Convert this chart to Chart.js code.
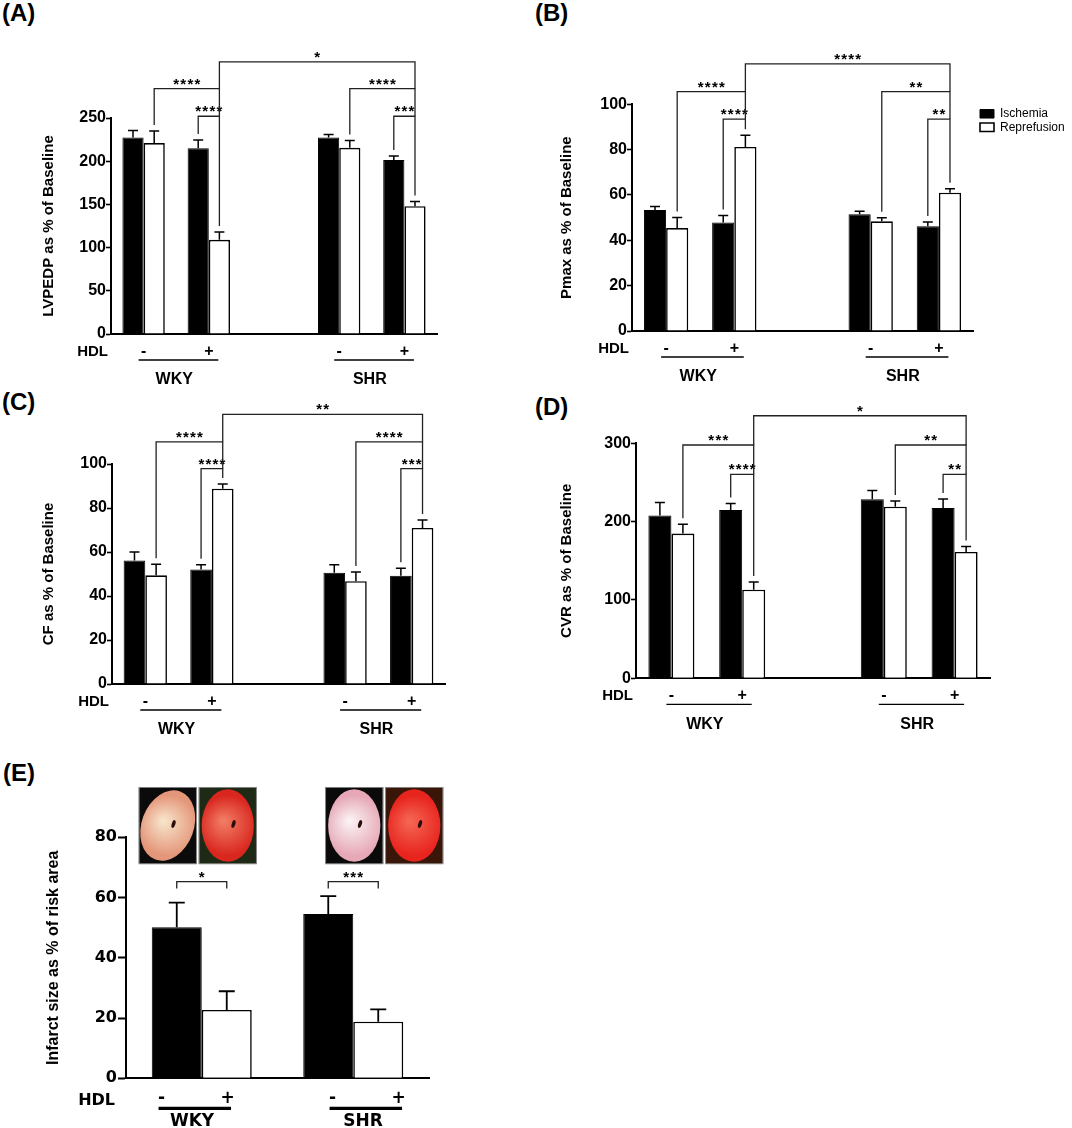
<!DOCTYPE html>
<html lang="en">
<head>
<meta charset="UTF-8">
<title>HDL and ischemia / reperfusion</title>
<script src="https://cdn.jsdelivr.net/npm/chart.js"></script>
<style>
    body {
        margin: 0;
        background: #fff;
        font-family: "Liberation Sans", Arial, sans-serif;
    }
    #page {
        position: relative;
        width: 1072px;
        height: 1128px;
        overflow: hidden;
    }
    .panel {
        position: absolute;
    }
    .tag {
        position: absolute;
        font-weight: bold;
        font-size: 24px;
        line-height: 26px;
    }
</style>
</head>
<body>
<div id="page">
    <div class="tag" style="left:2px;top:0">(A)</div>
    <div class="tag" style="left:535px;top:0">(B)</div>
    <div class="tag" style="left:2px;top:389px">(C)</div>
    <div class="tag" style="left:535px;top:394px">(D)</div>
    <div class="tag" style="left:3px;top:760px">(E)</div>
</div>

<script>
// ---------- values ----------
const hdlTicks = ['-', '+', '', '-', '+'];
const strains = ['WKY', 'SHR'];
const seriesNames = ['Ischemia', 'Reprefusion'];

// (A) LVPEDP
const lvpedpIsch = [227.5, 215, null, 227.5, 201.5];
const lvpedpIschSem = [8, 9.5, null, 3.5, 4.5];
const lvpedpRep = [221, 109, null, 215.5, 148];
const lvpedpRepSem = [14, 9, null, 8.5, 5.5];
// [category, series, category, series, bracket height, label]
const lvpedpSig = [
    [1, 0, 1, 1, 252, '****'],
    [0, 1, 1, 1, 284, '****'],
    [1, 1, 4, 1, 315, '*'],
    [3, 1, 4, 1, 284, '****'],
    [4, 0, 4, 1, 252, '***']
];

// (B) Pmax
const pmaxIsch = [53.4, 47.9, null, 51.5, 46.2];
const pmaxIschSem = [1.5, 3.0, null, 1.3, 1.9];
const pmaxRep = [45.4, 81.2, null, 48.4, 61.0];
const pmaxRepSem = [4.7, 5.1, null, 1.6, 1.8];
const pmaxSig = [
    [1, 0, 1, 1, 93.5, '****'],
    [0, 1, 1, 1, 105.6, '****'],
    [1, 1, 4, 1, 117.8, '****'],
    [3, 1, 4, 1, 105.6, '**'],
    [4, 0, 4, 1, 93.5, '**']
];

// (C) CF
const cfIsch = [56.1, 52.1, null, 50.6, 49.2];
const cfIschSem = [3.9, 2.1, null, 3.6, 3.4];
const cfRep = [49.4, 88.8, null, 46.7, 70.9];
const cfRepSem = [5.0, 2.1, null, 4.2, 3.6];
const cfSig = [
    [1, 0, 1, 1, 97.9, '****'],
    [0, 1, 1, 1, 110.1, '****'],
    [1, 1, 4, 1, 122.6, '**'],
    [3, 1, 4, 1, 110.1, '****'],
    [4, 0, 4, 1, 97.9, '***']
];

// (D) CVR
const cvrIsch = [207.7, 214.9, null, 228.5, 217.4];
const cvrIschSem = [16.6, 8.1, null, 11.1, 11.6];
const cvrRep = [184.7, 113.2, null, 219.1, 161.3];
const cvrRepSem = [11.9, 9.8, null, 7.3, 6.8];
const cvrSig = [
    [1, 0, 1, 1, 260.4, '****'],
    [0, 1, 1, 1, 297.8, '***'],
    [1, 1, 4, 1, 335.2, '*'],
    [3, 1, 4, 1, 297.8, '**'],
    [4, 0, 4, 1, 260.4, '**']
];

// (E) infarct size (black = HDL -, white = HDL +)
const infarctNoHdl = [50.1, 54.5];
const infarctNoHdlSem = [8.2, 6.0];
const infarctHdl = [22.7, 18.8];
const infarctHdlSem = [6.2, 4.1];
const infarctSig = [
    [0, 0, 0, 1, 65.3, '*'],
    [1, 0, 1, 1, 65.3, '***']
];

// ---------- drawing ----------
const FONT = 'Liberation Sans, Arial, Helvetica, sans-serif';
const WIDE = 'DejaVu Sans, Verdana, sans-serif';
Chart.defaults.color = '#000';
Chart.defaults.font.family = FONT;

// mean + SEM whiskers (upper only)
const errorBars = {
    id: 'errorBars',
    afterDatasetsDraw(chart, args, o) {
        const ctx = chart.ctx, ys = chart.scales.y;
        ctx.save();
        ctx.strokeStyle = '#000';
        ctx.lineWidth = o.width;
        chart.data.datasets.forEach((ds, di) => {
            chart.getDatasetMeta(di).data.forEach((bar, i) => {
                if (ds.data[i] == null) return;
                const top = ys.getPixelForValue(ds.data[i] + ds.sem[i]);
                ctx.beginPath();
                ctx.moveTo(bar.x, bar.y);
                ctx.lineTo(bar.x, top);
                ctx.moveTo(bar.x - o.cap / 2, top);
                ctx.lineTo(bar.x + o.cap / 2, top);
                ctx.stroke();
            });
        });
        ctx.restore();
    }
};

// significance brackets
const brackets = {
    id: 'brackets',
    afterDatasetsDraw(chart, args, o) {
        const ctx = chart.ctx, ys = chart.scales.y;
        const list = o.list;
        const barX = (c, s) => chart.getDatasetMeta(s).data[c].x;
        const errPx = (c, s) => {
            const ds = chart.data.datasets[s];
            return ys.getPixelForValue(ds.data[c] + ds.sem[c]);
        };
        ctx.save();
        ctx.strokeStyle = '#222';
        ctx.fillStyle = '#000';
        ctx.lineWidth = o.lineWidth;
        ctx.font = 'bold ' + o.size + 'px ' + FONT;
        ctx.textAlign = 'center';
        ctx.textBaseline = 'alphabetic';
        list.forEach(b => {
            const lv = b[4];
            const yLine = ys.getPixelForValue(lv);
            const foot = (c, s) => {
                if (o.legLen) return yLine + o.legLen;
                let below = null;
                list.forEach(q => {
                    const shares = (q[0] === c && q[1] === s) || (q[2] === c && q[3] === s);
                    if (q[4] < lv && shares) below = below === null ? q[4] : Math.max(below, q[4]);
                });
                return below !== null ? ys.getPixelForValue(below) : errPx(c, s) - o.gap;
            };
            const x1 = barX(b[0], b[1]), x2 = barX(b[2], b[3]);
            ctx.beginPath();
            ctx.moveTo(x1, foot(b[0], b[1]));
            ctx.lineTo(x1, yLine);
            ctx.lineTo(x2, yLine);
            ctx.lineTo(x2, foot(b[2], b[3]));
            ctx.stroke();
            ctx.letterSpacing = o.spacing + 'px';
            ctx.fillText(b[5], (x1 + x2) / 2 + o.spacing / 2, yLine - o.lift);
        });
        ctx.restore();
    }
};

// HDL label, group underline and strain names (panels A-D)
const hdlRow = {
    id: 'hdlRow',
    afterDraw(chart, args, o) {
        const ctx = chart.ctx, a = chart.chartArea, xs = chart.scales.x;
        ctx.save();
        ctx.fillStyle = '#000';
        ctx.strokeStyle = '#000';
        ctx.textBaseline = 'middle';
        ctx.font = 'bold 15px ' + FONT;
        ctx.textAlign = 'right';
        ctx.fillText('HDL', a.left - 3, a.bottom + 18);
        ctx.font = 'bold 16px ' + FONT;
        ctx.textAlign = 'center';
        ctx.lineWidth = 1.3;
        o.groups.forEach((g, i) => {
            const c0 = xs.getPixelForValue(g[0]), c1 = xs.getPixelForValue(g[1]);
            ctx.beginPath();
            ctx.moveTo(c0 - 5, a.bottom + 26);
            ctx.lineTo(c1 + 9.5, a.bottom + 26);
            ctx.stroke();
            ctx.fillText(strains[i], (c0 + c1) / 2 - 2, a.bottom + 46);
        });
        ctx.restore();
    }
};

// HDL row of panel E
const infarctRow = {
    id: 'infarctRow',
    afterDraw(chart, args, o) {
        const ctx = chart.ctx, a = chart.chartArea, xs = chart.scales.x;
        ctx.save();
        ctx.fillStyle = '#000';
        ctx.strokeStyle = '#000';
        ctx.textBaseline = 'middle';
        ctx.font = 'bold 16px ' + WIDE;
        ctx.textAlign = 'right';
        ctx.fillText('HDL', a.left - 11, a.bottom + 23);
        ctx.textAlign = 'center';
        chart.data.labels.forEach((name, i) => {
            const c = xs.getPixelForValue(i) + o.shift[i];
            ctx.font = 'bold 17px ' + WIDE;
            ctx.fillText('-', c - 30.5, a.bottom + 20);
            ctx.fillText('+', c + 35.5, a.bottom + 20);
            ctx.lineWidth = 3.3;
            ctx.beginPath();
            ctx.moveTo(c - 33.5, a.bottom + 30);
            ctx.lineTo(c + 39, a.bottom + 30);
            ctx.stroke();
            ctx.fillText(name, c, a.bottom + 43);
        });
        ctx.restore();
    }
};

// stained heart slices above panel E (painted stand-ins)
function drawSlice(ctx, x, y, w, h, t) {
    ctx.save();
    ctx.fillStyle = t.bg;
    ctx.fillRect(x, y, w, h);
    ctx.strokeStyle = '#9a9a9a';
    ctx.lineWidth = 0.8;
    ctx.strokeRect(x + 0.4, y + 0.4, w - 0.8, h - 0.8);
    const cx = x + w / 2, cy = y + h / 2;
    const g = ctx.createRadialGradient(cx - w * 0.08, cy - h * 0.06, 2, cx, cy, w * 0.52);
    g.addColorStop(0, t.core);
    g.addColorStop(1, t.rim);
    ctx.fillStyle = g;
    ctx.beginPath();
    ctx.ellipse(cx, cy, w * 0.45, h * 0.47, t.tilt, 0, Math.PI * 2);
    ctx.fill();
    ctx.fillStyle = '#2a0d08';
    ctx.beginPath();
    ctx.ellipse(cx + w * 0.1, cy - h * 0.02, 1.8, 4, 0.3, 0, Math.PI * 2);
    ctx.fill();
    ctx.restore();
}

const photos = {
    id: 'photos',
    afterDraw(chart, args, o) {
        const ctx = chart.ctx, xs = chart.scales.x, ys = chart.scales.y;
        const top = ys.getPixelForValue(o.top), bottom = ys.getPixelForValue(o.bottom);
        chart.data.labels.forEach((_, i) => {
            const c = xs.getPixelForValue(i) + o.shift[i];
            o.slices[i].forEach((t, k) => {
                const x = k === 0 ? c - 1 - o.w : c + 1;
                drawSlice(ctx, x, top, o.w, bottom - top, t);
            });
        });
    }
};

// move the legend a few pixels off the plot
const legendNudge = {
    id: 'legendNudge',
    afterLayout(chart, args, o) {
        const lg = chart.legend;
        if (!lg || !o.dx) return;
        lg.left += o.dx; lg.right += o.dx;
        lg.top += o.dy; lg.bottom += o.dy;
    }
};

function pairSets(isch, ischSem, rep, repSem, names) {
    return [
        { label: names[0], data: isch, sem: ischSem, backgroundColor: '#000', borderColor: '#000', borderWidth: 1 },
        { label: names[1], data: rep, sem: repSem, backgroundColor: '#fff', borderColor: '#000', borderWidth: 1.6 }
    ];
}

function buildChart(p) {
    const [bx, by, bw, bh] = p.box;
    const [L, T, R, B] = p.area;
    const wrap = document.createElement('div');
    wrap.className = 'panel';
    wrap.style.left = bx + 'px';
    wrap.style.top = by + 'px';
    wrap.style.width = bw + 'px';
    wrap.style.height = bh + 'px';
    const cv = document.createElement('canvas');
    wrap.appendChild(cv);
    document.getElementById('page').appendChild(wrap);

    const xH = 40;
    let legendW = 0;
    if (p.legend) {
        const m = document.createElement('canvas').getContext('2d');
        m.font = '12px ' + FONT;
        const tw = Math.max(...p.datasets.map(d => m.measureText(d.label).width));
        legendW = 1.5 + 14 + 6 + tw + 10;
    }
    const big = p.wide;
    const tickFont = { family: big ? WIDE : FONT, size: 16, weight: 'bold' };
    const titleSize = big ? 16 : 15;

    return new Chart(cv, {
        type: 'bar',
        data: { labels: p.labels, datasets: p.datasets },
        options: {
            responsive: true,
            maintainAspectRatio: false,
            animation: false,
            events: [],
            layout: {
                padding: { left: 0, top: T - by, right: bx + bw - R - legendW, bottom: by + bh - B - xH }
            },
            datasets: { bar: { categoryPercentage: p.catPct, barPercentage: 1 } },
            scales: {
                x: {
                    offset: true,
                    grid: { display: false, drawTicks: false },
                    border: { display: true, color: '#000', width: 2 },
                    ticks: {
                        display: !big,
                        color: '#000',
                        font: { family: FONT, size: 16, weight: 'bold' },
                        padding: 8,
                        maxRotation: 0,
                        autoSkip: false
                    },
                    afterFit: s => { s.height = xH; }
                },
                y: {
                    min: 0,
                    max: p.yMax,
                    ticks: { stepSize: p.yStep, color: '#000', font: tickFont, padding: big ? 1 : 0 },
                    grid: { drawOnChartArea: false, drawTicks: true, tickLength: big ? 8 : 5, tickColor: '#000', tickWidth: big ? 2 : 1.6 },
                    border: { display: true, color: '#000', width: 2 },
                    title: {
                        display: true,
                        text: p.title,
                        color: '#000',
                        font: { family: FONT, size: titleSize, weight: 'bold' },
                        padding: { top: p.titleX - bx - titleSize * 0.6, bottom: 0 }
                    },
                    afterFit: s => { s.width = L - bx; }
                }
            },
            plugins: {
                legend: p.legend ? {
                    display: true,
                    position: 'right',
                    align: 'start',
                    labels: { boxWidth: 14, boxHeight: 8.5, padding: 1.5, color: '#000', font: { family: FONT, size: 12 } }
                } : { display: false },
                tooltip: { enabled: false },
                legendNudge: p.legend ? { dx: 5.5, dy: 2 } : {},
                errorBars: { width: big ? 1.8 : 1.5, cap: big ? 16 : 10 },
                brackets: { list: p.sig, lineWidth: 1.3, size: 15, spacing: 1.2, lift: 0, gap: 6, legLen: p.legLen || 0 },
                hdlRow: { groups: [[0, 1], [3, 4]] },
                infarctRow: { shift: [-9.7, 9.8] },
                photos: p.photos || {}
            }
        },
        plugins: [legendNudge, errorBars, brackets].concat(p.extra)
    });
}

buildChart({
    box: [0, 0, 470, 392], area: [111, 118, 437, 334],
    labels: hdlTicks, yMax: 250, yStep: 50, catPct: 0.65,
    title: 'LVPEDP as % of Baseline', titleX: 49,
    datasets: pairSets(lvpedpIsch, lvpedpIschSem, lvpedpRep, lvpedpRepSem, seriesNames),
    sig: lvpedpSig, extra: [hdlRow]
});

buildChart({
    box: [540, 0, 532, 392], area: [632, 104.3, 973, 331],
    labels: hdlTicks, yMax: 100, yStep: 20, catPct: 0.65,
    title: 'Pmax as % of Baseline', titleX: 567, legend: true,
    datasets: pairSets(pmaxIsch, pmaxIschSem, pmaxRep, pmaxRepSem, seriesNames),
    sig: pmaxSig, extra: [hdlRow]
});

buildChart({
    box: [0, 392, 470, 368], area: [112, 464, 445, 684],
    labels: hdlTicks, yMax: 100, yStep: 20, catPct: 0.65,
    title: 'CF as % of Baseline', titleX: 49,
    datasets: pairSets(cfIsch, cfIschSem, cfRep, cfRepSem, seriesNames),
    sig: cfSig, extra: [hdlRow]
});

buildChart({
    box: [540, 392, 532, 368], area: [636, 443.3, 990, 678.3],
    labels: hdlTicks, yMax: 300, yStep: 100, catPct: 0.65,
    title: 'CVR as % of Baseline', titleX: 567,
    datasets: pairSets(cvrIsch, cvrIschSem, cvrRep, cvrRepSem, seriesNames),
    sig: cvrSig, extra: [hdlRow]
});

buildChart({
    box: [0, 760, 470, 368], area: [126, 837.3, 429, 1078.3],
    labels: strains, yMax: 80, yStep: 20, catPct: 0.66, wide: true,
    title: 'Infarct size as % of risk area', titleX: 53.3,
    datasets: pairSets(infarctNoHdl, infarctNoHdlSem, infarctHdl, infarctHdlSem, ['HDL -', 'HDL +']),
    sig: infarctSig, legLen: 7,
    photos: {
        top: 96.7, bottom: 71.1, w: 58, shift: [-4, 31],
        slices: [
            [{ bg: '#0b0b0b', core: '#f7e2c8', rim: '#e4967a', tilt: 0.35 },
             { bg: '#1f2a16', core: '#f07a62', rim: '#d9261f', tilt: 0 }],
            [{ bg: '#0a0a0a', core: '#faf0f2', rim: '#e6a8b6', tilt: 0 },
             { bg: '#3a1609', core: '#f46452', rim: '#e8241e', tilt: 0 }]
        ]
    },
    extra: [infarctRow, photos]
});
</script>
</body>
</html>
